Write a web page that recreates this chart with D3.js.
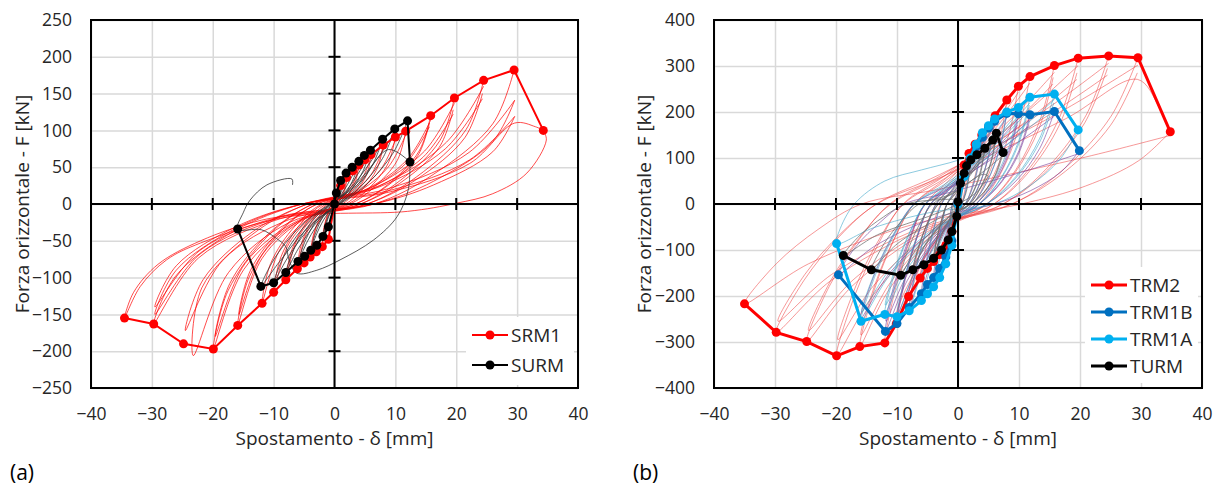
<!DOCTYPE html>
<html lang="it">
<head>
<meta charset="utf-8">
<script src="https://cdn.jsdelivr.net/npm/d3@7"></script>
<style>
body { margin: 0; background: #fff; }
svg { font-family: "Open Sans", sans-serif; }
</style>
</head>
<body>
<script>
// tick values
var xTicks = [-40, -30, -20, -10, 0, 10, 20, 30, 40];
var yTicksA = [-250, -200, -150, -100, -50, 0, 50, 100, 150, 200, 250];
var yTicksB = [-400, -300, -200, -100, 0, 100, 200, 300, 400];

// ---- (a) envelope curves ----
var srm1X = [-34.5, -29.7, -24.8, -19.9, -15.9, -11.9, -10, -8, -6.1, -5, -4, -3, -2, -1, 0, 1, 2, 3, 4, 5, 6, 8, 10, 11.7, 15.8, 19.7, 24.5, 29.5, 34.3];
var srm1F = [-155, -163, -190, -197, -165, -135, -120, -103, -88, -80, -72, -65, -58, -48, 0, 25, 36, 45, 53, 60, 67, 80, 91, 99, 120, 144, 168, 182, 100];
var surmX = [-15.9, -12.1, -10, -8, -6, -4.9, -3.9, -2.9, -1.9, -1, 0, 0.3, 1, 1.9, 2.9, 4, 4.9, 5.9, 7.9, 9.9, 12, 12.4];
var surmF = [-34, -112, -107, -93, -78, -71, -63, -56, -44, -31, 0, 15, 32, 42, 50, 58, 66, 73, 88, 102, 113, 57];

// ---- (a) raw cycles, x,F pairs ----
var srm1Loops = [
  [2,36, 1.8,22, 1.1,8, 0.4,0, -0.6,-7, -1.5,-26, -2,-58, -1.8,-35, -1.1,-13, -0.4,0, 0.6,5, 1.5,18, 2,34],
  [4,53, 3.5,32, 2.2,12, 0.9,0, -1.2,-9, -3,-32, -4,-72, -3.5,-43, -2.2,-16, -0.7,0, 1.2,8, 3,27, 4,50],
  [6,67, 5.3,40, 3.3,15, 1.3,0, -1.8,-11, -4.6,-40, -6.1,-88, -5.4,-53, -3.4,-19, -1.1,0, 1.8,10, 4.5,34, 6,64],
  [8,80, 7,48, 4.4,18, 1.8,0, -2.4,-12, -6,-46, -8,-103, -7,-62, -4.4,-23, -1.4,0, 2.4,12, 6,40, 8,76],
  [10,91, 8.8,55, 5.5,20, 2.2,0, -3,-14, -7.5,-54, -10,-120, -8.8,-72, -5.5,-26, -1.8,0, 3,14, 7.5,46, 10,87],
  [11.7,99, 10.3,59, 6.4,22, 2.6,0, -3.6,-16, -8.9,-61, -11.9,-135, -10.5,-81, -6.5,-30, -2.1,0, 3.5,15, 8.8,50, 11.7,94],
  [15.8,120, 13.9,72, 8.7,26, 3.5,0, -4.8,-20, -11.9,-74, -15.9,-165, -14,-99, -8.7,-36, -2.9,0, 4.7,18, 11.9,60, 15.8,114],
  [15.6,110, 13.7,66, 8.6,24, 3.4,0, -4.7,-18, -11.8,-68, -15.7,-150, -13.8,-90, -8.6,-33, -2.8,0, 4.7,17, 11.7,55, 15.6,105],
  [19.7,144, 17.3,86, 10.8,32, 4.3,0, -6,-24, -14.9,-89, -19.9,-197, -17.5,-118, -10.9,-43, -3.6,0, 5.9,22, 14.8,72, 19.7,137],
  [19.5,128, 17.2,77, 10.7,28, 4.3,0, -5.9,-22, -14.7,-81, -19.6,-180, -17.2,-108, -10.8,-40, -3.5,0, 5.9,19, 14.6,64, 19.5,122],
  [24.5,168, 21.6,101, 13.5,37, 5.4,0, -7.4,-25, -17.4,-93, -23.2,-206, -21.8,-114, -13.6,-42, -4.5,0, 7.4,25, 18.4,84, 24.5,160],
  [24.3,150, 21.4,90, 13.4,33, 5.3,0, -7.4,-21, -18.4,-77, -24.5,-172, -21.6,-103, -13.5,-38, -4.4,0, 7.3,23, 18.2,75, 24.3,143],
  [29.5,182, 26,109, 16.2,40, 6.5,0, -8.9,-20, -22.3,-73, -29.7,-163, -26.1,-98, -16.3,-36, -5.3,0, 8.9,21, 22.1,70, 29.6,141],
  [29.6,141, 26,85, 16.3,31, 6.5,0, -8.9,-18, -22.1,-68, -29.5,-150, -26,-90, -16.2,-33, -5.3,0, 8.9,18, 22.2,60, 29.6,119],
  [29.6,119, 26,71, 16.3,26, 6.5,0, -8.9,-17, -22.1,-63, -29.5,-140, -26,-84, -16.2,-31, -5.3,0, 8.9,16, 22.2,55, 29.6,110, 33,105, 34.3,100],
  [34.3,100, 34.8,87, 31.6,42, 26,14, 20,1, 12,-10, -8,-18, -22,-53, -27.6,-76, -31.9,-112, -34.5,-155, -33,-120, -29,-82, -22,-50, -12,-22, 0,-8]
];
var surmLoops = [
  [1.9,42, 1.5,25, 0.6,8, -0.6,-10, -1.4,-28, -1.9,-44, -1.5,-27, -0.6,-9, 0.6,10, 1.4,28, 1.9,40],
  [4,58, 3.2,36, 1.6,12, -1.2,-14, -2.9,-40, -3.9,-63, -3.1,-39, -1.6,-13, 1.2,14, 2.9,38, 4,56],
  [5.9,73, 4.7,45, 2.4,15, -1.8,-17, -4.4,-50, -5.9,-78, -4.7,-48, -2.4,-16, 1.8,17, 4.4,48, 5.9,70],
  [7.9,88, 6.3,54, 3.2,18, -2.4,-20, -5.9,-60, -8,-93, -6.4,-57, -3.2,-19, 2.4,20, 5.9,57, 7.9,85],
  [9.9,102, 7.9,62, 4,21, -3,-23, -7.4,-69, -10,-107, -8,-66, -4,-22, 3,23, 7.4,66, 9.9,98],
  [12,113, 9.6,69, 4.8,23, -3.6,-26, -8.9,-77, -12.1,-112, -9.7,-72, -4.8,-24, 3.6,25, 8.9,74, 12.4,57],
  [12.4,57, 12.1,19, 10.3,-17, 6.4,-49, 0.9,-76, -2.9,-90, -6.2,-94, -7.5,-75, -8,-58, -9.5,-47, -12,-35, -15.9,-34, -15,-12, -13.9,5, -11.1,26, -7,34, -6.9,26]
];

// ---- (b) envelope curves ----
var trm2X = [-35, -29.8, -24.8, -19.9, -16.1, -12, -10.1, -8.1, -6.2, -5, -4, -3, -2, -1, 0, 1, 1.8, 2.8, 3.9, 5, 6.1, 8, 9.9, 11.8, 15.8, 19.7, 24.7, 29.5, 34.8];
var trm2F = [-217, -279, -299, -330, -310, -302, -260, -201, -161, -140, -125, -110, -90, -60, 0, 85, 110, 130, 150, 168, 192, 226, 256, 277, 301, 317, 322, 318, 157];
var trm1bX = [-19.6, -11.9, -10, -8, -6, -5, -4, -3, -2, -1, 0, 1, 2, 3, 4, 5, 6, 8, 9.9, 11.8, 15.8, 19.9];
var trm1bF = [-154, -277, -260, -225, -195, -175, -160, -140, -115, -80, 0, 60, 95, 125, 145, 165, 180, 197, 196, 194, 201, 116];
var trm1aX = [-19.9, -15.9, -12, -10, -8, -6, -5, -4, -3, -2, -1, 0, 1, 2, 3, 4, 5, 6, 8, 9.9, 11.8, 15.8, 19.7];
var trm1aF = [-86, -255, -240, -245, -232, -210, -195, -180, -160, -130, -90, 0, 60, 100, 130, 155, 170, 185, 200, 210, 232, 239, 161];
var turmX = [-18.8, -14.2, -9.4, -7.4, -5.6, -4, -2.7, -1.6, -1, -0.2, 0, 0.4, 1, 1.4, 2.1, 3.1, 4.4, 5.7, 6.3, 7.4];
var turmF = [-112, -143, -155, -143, -132, -118, -100, -78, -60, -27, 5, 45, 67, 83, 96, 107, 121, 139, 154, 112];

// ---- (b) raw cycles ----
var trm2Loops = [
  [1.8,110, 1.5,66, 1.1,28, 0.5,0, -0.4,-18, -1.4,-54, -2,-90, -1.7,-54, -1.3,-23, -0.9,0, -0.2,22, 1.1,72, 1.8,105],
  [3.9,150, 3.3,90, 2.3,38, 1.2,0, -0.8,-25, -2.8,-75, -4,-125, -3.4,-75, -2.6,-31, -1.8,0, -0.4,30, 2.3,98, 3.9,143],
  [6.1,192, 5.2,115, 3.7,48, 1.8,0, -1.2,-32, -4.3,-97, -6.2,-161, -5.3,-97, -4,-40, -2.8,0, -0.6,38, 3.7,125, 6.1,182],
  [8,226, 6.8,136, 4.8,57, 2.4,0, -1.6,-40, -5.7,-121, -8.1,-201, -6.9,-121, -5.3,-50, -3.6,0, -0.8,45, 4.8,147, 8,215],
  [9.9,256, 8.4,154, 5.9,64, 3,0, -2,-52, -7.1,-156, -10.1,-260, -8.6,-156, -6.6,-65, -4.5,0, -1,51, 5.9,166, 9.9,243],
  [11.8,277, 10,166, 7.1,69, 3.5,0, -2.4,-60, -8.4,-181, -12,-302, -10.2,-181, -7.8,-76, -5.4,0, -1.2,55, 7.1,180, 11.8,263],
  [15.8,301, 13.4,181, 9.5,75, 4.7,0, -3.2,-62, -11.3,-186, -16.1,-310, -13.7,-186, -10.5,-78, -7.2,0, -1.6,60, 9.5,196, 15.8,286],
  [15.6,275, 13.3,165, 9.4,69, 4.7,0, -3.2,-57, -11.1,-171, -15.9,-285, -13.5,-171, -10.3,-71, -7.2,0, -1.6,55, 9.4,179, 15.6,261],
  [19.7,317, 16.7,190, 11.8,79, 5.9,0, -4,-66, -13.9,-198, -19.9,-330, -16.9,-198, -12.9,-83, -9,0, -2,63, 11.8,206, 19.7,301],
  [19.5,285, 16.6,171, 11.7,71, 5.9,0, -3.9,-59, -13.8,-177, -19.7,-295, -16.7,-177, -12.8,-74, -8.9,0, -2,57, 11.7,185, 19.5,271],
  [24.7,322, 21,193, 14.8,81, 7.4,0, -5,-60, -17.4,-179, -24.8,-299, -21.1,-179, -16.1,-75, -11.2,0, -2.5,64, 14.8,209, 24.7,306],
  [24.5,295, 20.8,177, 14.7,74, 7.4,0, -4.9,-55, -17.2,-165, -24.5,-275, -20.8,-165, -15.9,-69, -11,0, -2.5,59, 14.7,192, 24.5,280],
  [29.5,318, 25.1,191, 17.7,80, 8.9,0, -6,-56, -20.9,-167, -29.8,-279, -25.3,-167, -19.4,-70, -13.4,0, -3,64, 17.7,207, 29.5,302],
  [29.4,285, 25,171, 17.6,71, 8.8,0, -5.9,-51, -20.7,-153, -29.5,-255, -25.1,-153, -19.2,-64, -13.3,0, -3,57, 17.6,185, 29.4,271, 33,210, 34.8,157],
  [34.8,157, 29.6,94, 20.9,39, 10.4,0, -7,-43, -24.5,-130, -35,-217, -29.8,-130, -22.8,-54, -15.8,0, -3.5,31, 20.9,102, 34.8,149]
];
var trm1bLoops = [
  [2,95, 1.7,57, 1.2,24, 0.6,0, -0.4,-23, -1.4,-69, -2,-115, -1.7,-69, -1.3,-29, -0.9,0, -0.2,19, 1.2,62, 2,90],
  [4,145, 3.4,87, 2.4,36, 1.2,0, -0.8,-32, -2.8,-96, -4,-160, -3.4,-96, -2.6,-40, -1.8,0, -0.4,29, 2.4,94, 4,138],
  [6,180, 5.1,108, 3.6,45, 1.8,0, -1.2,-39, -4.2,-117, -6,-195, -5.1,-117, -3.9,-49, -2.7,0, -0.6,36, 3.6,117, 6,171],
  [8,197, 6.8,118, 4.8,49, 2.4,0, -1.6,-45, -5.6,-135, -8,-225, -6.8,-135, -5.2,-56, -3.6,0, -0.8,39, 4.8,128, 8,187],
  [9.9,196, 8.4,118, 5.9,49, 3,0, -2,-52, -7,-156, -10,-260, -8.5,-156, -6.5,-65, -4.5,0, -1,39, 5.9,127, 9.9,186],
  [9.8,180, 8.3,108, 5.9,45, 2.9,0, -2,-48, -6.9,-144, -9.9,-240, -8.4,-144, -6.4,-60, -4.5,0, -1,36, 5.9,117, 9.8,171],
  [11.8,194, 10,116, 7.1,49, 3.5,0, -2.4,-55, -8.3,-166, -11.9,-277, -10.1,-166, -7.7,-69, -5.4,0, -1.2,39, 7.1,126, 11.8,184],
  [11.7,180, 9.9,108, 7,45, 3.5,0, -2.4,-51, -8.3,-153, -11.8,-255, -10,-153, -7.7,-64, -5.3,0, -1.2,36, 7,117, 11.7,171],
  [15.8,201, 13.4,121, 9.5,50, 4.7,0, -3.2,-50, -11.2,-150, -16,-250, -13.6,-150, -10.4,-63, -7.2,0, -1.6,40, 9.5,131, 15.8,191],
  [19.9,116, 16.9,70, 11.9,29, 6,0, -3.9,-31, -13.7,-92, -19.6,-154, -16.7,-92, -12.7,-39, -8.8,0, -2,23, 11.9,75, 19.9,110]
];
var trm1aLoops = [
  [2,100, 1.7,60, 1.2,25, 0.6,0, -0.4,-26, -1.4,-78, -2,-130, -1.7,-78, -1.3,-33, -0.9,0, -0.2,20, 1.2,65, 2,95],
  [4,155, 3.4,93, 2.4,39, 1.2,0, -0.8,-36, -2.8,-108, -4,-180, -3.4,-108, -2.6,-45, -1.8,0, -0.4,31, 2.4,101, 4,147],
  [6,185, 5.1,111, 3.6,46, 1.8,0, -1.2,-42, -4.2,-126, -6,-210, -5.1,-126, -3.9,-53, -2.7,0, -0.6,37, 3.6,120, 6,176],
  [8,200, 6.8,120, 4.8,50, 2.4,0, -1.6,-46, -5.6,-139, -8,-232, -6.8,-139, -5.2,-58, -3.6,0, -0.8,40, 4.8,130, 8,190],
  [9.9,210, 8.4,126, 5.9,53, 3,0, -2,-49, -7,-147, -10,-245, -8.5,-147, -6.5,-61, -4.5,0, -1,42, 5.9,137, 9.9,200],
  [11.8,232, 10,139, 7.1,58, 3.5,0, -2.4,-48, -8.4,-143, -12,-238, -10.2,-143, -7.8,-60, -5.4,0, -1.2,46, 7.1,151, 11.8,220],
  [11.7,215, 9.9,129, 7,54, 3.5,0, -2.4,-44, -8.3,-132, -11.9,-220, -10.1,-132, -7.7,-55, -5.4,0, -1.2,43, 7,140, 11.7,204],
  [15.8,239, 13.4,143, 9.5,60, 4.7,0, -3.2,-51, -11.1,-153, -15.9,-255, -13.5,-153, -10.3,-64, -7.2,0, -1.6,48, 9.5,155, 15.8,227],
  [15.7,220, 13.3,132, 9.4,55, 4.7,0, -3.2,-47, -11.1,-141, -15.8,-235, -13.4,-141, -10.3,-59, -7.1,0, -1.6,44, 9.4,143, 15.7,209],
  [19.7,161, 16.7,97, 11.8,40, 5.9,0, -4,-17, -13.9,-52, -19.9,-86, -19.5,-60, -17,0, -12,50, -6,74, 0,95, 5,120]
];
var turmLoops = [
  [1,67, 0.85,40, 0.6,17, 0.3,0, -0.2,-12, -0.7,-36, -1,-60, -0.85,-36, -0.65,-15, -0.45,0, -0.1,13, 0.6,44, 1,64],
  [2.1,96, 1.8,58, 1.3,24, 0.6,0, -0.3,-16, -1.1,-47, -1.6,-78, -1.4,-47, -1,-20, -0.7,0, -0.2,19, 1.3,62, 2.1,91],
  [4.4,121, 3.7,73, 2.6,30, 1.3,0, -0.8,-24, -2.8,-71, -4,-118, -3.4,-71, -2.6,-30, -1.8,0, -0.4,24, 2.6,79, 4.4,115],
  [4.3,112, 3.7,67, 2.6,28, 1.3,0, -0.8,-22, -2.7,-66, -3.9,-110, -3.3,-66, -2.5,-28, -1.8,0, -0.4,22, 2.6,73, 4.3,106],
  [6.3,154, 5.4,92, 3.8,39, 1.9,0, -1.5,-29, -5.2,-86, -7.4,-143, -6.3,-86, -4.8,-36, -3.3,0, -0.7,31, 3.8,100, 6.3,146],
  [6.2,140, 5.3,84, 3.7,35, 1.9,0, -1.4,-27, -5,-80, -7.2,-133, -6.1,-80, -4.7,-33, -3.2,0, -0.7,28, 3.7,91, 6.2,133],
  [7.4,112, 6.3,67, 4.4,28, 2.2,0, -1.9,-31, -6.6,-93, -9.4,-155, -8,-93, -6.1,-39, -4.2,0, -0.9,22, 4.4,73, 7.4,106],
  [7,100, 6,60, 4.2,25, 2.1,0, -2.8,-29, -9.9,-86, -14.2,-143, -12.1,-86, -9.2,-36, -6.4,0, -1.4,20, 4.2,65, 5,60],
  [5,60, 3,25, 0,0, -3.8,-22, -13.2,-67, -18.8,-112, -16,-67, -12.2,-28, -8.5,0, -2,10, 0,10]
];

var svg = d3.select("body").append("svg")
    .attr("width", 1213)
    .attr("height", 490);

// turn flat x,F list into points
function pairs(flat) {
  var out = [];
  for (var i = 0; i < flat.length; i += 2) out.push([flat[i], flat[i + 1]]);
  return out;
}
function zip(xs, fs) {
  return xs.map(function(v, i) { return [v, fs[i]]; });
}

function drawPanel(p) {
  var g = svg.append("g");
  var x = d3.scaleLinear().domain([-40, 40]).range([p.left, p.right]);
  var y = d3.scaleLinear().domain([p.yTicks[0], p.yTicks[p.yTicks.length - 1]]).range([p.bottom, p.top]);
  var w = p.right - p.left, h = p.bottom - p.top;

  g.append("clipPath").attr("id", "clip" + p.id)
    .append("rect").attr("x", p.left).attr("y", p.top).attr("width", w).attr("height", h);

  // grid
  g.append("g")
    .attr("transform", "translate(0," + p.bottom + ")")
    .call(d3.axisBottom(x).tickValues(xTicks).tickSize(-h).tickFormat(""))
    .call(function(s) { s.select(".domain").remove(); s.selectAll("line").attr("stroke", "#d9d9d9").attr("stroke-width", 1.5); });
  g.append("g")
    .attr("transform", "translate(" + p.left + ",0)")
    .call(d3.axisLeft(y).tickValues(p.yTicks).tickSize(-w).tickFormat(""))
    .call(function(s) { s.select(".domain").remove(); s.selectAll("line").attr("stroke", "#d9d9d9").attr("stroke-width", 1.5); });

  // tick labels
  g.append("g")
    .attr("transform", "translate(0," + (p.bottom + 14) + ")")
    .call(d3.axisBottom(x).tickValues(xTicks).tickSize(0).tickPadding(6))
    .call(function(s) { s.select(".domain").remove(); s.selectAll("text").attr("font-size", 17.5).attr("fill", "#262626").attr("font-family", "Open Sans, sans-serif"); });
  g.append("g")
    .attr("transform", "translate(" + (p.left - 13) + ",0)")
    .call(d3.axisLeft(y).tickValues(p.yTicks).tickSize(0).tickPadding(6))
    .call(function(s) { s.select(".domain").remove(); s.selectAll("text").attr("font-size", 17.5).attr("fill", "#262626").attr("font-family", "Open Sans, sans-serif"); });

  // raw cycles
  var smooth = d3.line()
    .x(function(d) { return x(d[0]); })
    .y(function(d) { return y(d[1]); })
    .curve(d3.curveCatmullRom.alpha(0.5));
  var raw = g.append("g").attr("clip-path", "url(#clip" + p.id + ")");
  p.raw.forEach(function(r) {
    raw.selectAll(null).data(r.loops).enter().append("path")
      .attr("d", function(d) { return smooth(pairs(d)); })
      .attr("fill", "none")
      .attr("stroke", r.color)
      .attr("stroke-opacity", r.opacity)
      .attr("stroke-width", 1);
  });

  // zero axes with crossing ticks
  g.append("line").attr("x1", p.left).attr("x2", p.right).attr("y1", y(0)).attr("y2", y(0))
    .attr("stroke", "#000").attr("stroke-width", 2);
  g.append("line").attr("x1", x(0)).attr("x2", x(0)).attr("y1", p.top).attr("y2", p.bottom)
    .attr("stroke", "#000").attr("stroke-width", 2);
  g.selectAll(null).data(xTicks.slice(1, -1)).enter().append("line")
    .attr("x1", function(d) { return x(d); }).attr("x2", function(d) { return x(d); })
    .attr("y1", y(0) - 6).attr("y2", y(0) + 6)
    .attr("stroke", "#000").attr("stroke-width", 2);
  g.selectAll(null).data(p.yTicks.slice(1, -1)).enter().append("line")
    .attr("x1", x(0) - 6).attr("x2", x(0) + 6)
    .attr("y1", function(d) { return y(d); }).attr("y2", function(d) { return y(d); })
    .attr("stroke", "#000").attr("stroke-width", 2);

  // envelopes with markers
  var straight = d3.line()
    .x(function(d) { return x(d[0]); })
    .y(function(d) { return y(d[1]); });
  p.env.forEach(function(e) {
    var pts = zip(e.x, e.f);
    g.append("path").attr("d", straight(pts))
      .attr("fill", "none").attr("stroke", e.color).attr("stroke-width", p.lw);
    g.selectAll(null).data(pts).enter().append("circle")
      .attr("cx", function(d) { return x(d[0]); })
      .attr("cy", function(d) { return y(d[1]); })
      .attr("r", p.r)
      .attr("fill", e.color);
  });

  // frame
  g.append("rect").attr("x", p.left).attr("y", p.top).attr("width", w).attr("height", h)
    .attr("fill", "none").attr("stroke", "#000").attr("stroke-width", 2);

  // legend
  var lg = g.append("g");
  lg.append("rect").attr("x", p.legX - 6).attr("y", p.legY - 18)
    .attr("width", p.right - p.legX + 2).attr("height", p.env.length * p.legStep + 8)
    .attr("fill", "#fff");
  p.env.forEach(function(e, i) {
    var ly = p.legY + i * p.legStep;
    lg.append("line").attr("x1", p.legX).attr("x2", p.legX + 36).attr("y1", ly).attr("y2", ly)
      .attr("stroke", e.color).attr("stroke-width", p.lw);
    lg.append("circle").attr("cx", p.legX + 18).attr("cy", ly).attr("r", p.r).attr("fill", e.color);
    lg.append("text").attr("x", p.legX + 39).attr("y", ly).attr("dy", "0.36em")
      .attr("font-size", 19).attr("fill", "#262626").text(e.name);
  });

  // axis titles
  g.append("text").attr("x", (p.left + p.right) / 2).attr("y", 438).attr("dy", "0.36em")
    .attr("text-anchor", "middle").attr("font-size", 19).attr("fill", "#262626")
    .text("Spostamento - δ [mm]");
  g.append("text")
    .attr("transform", "translate(" + p.titleX + "," + (p.top + p.bottom) / 2 + ") rotate(-90)")
    .attr("dy", "0.36em").attr("text-anchor", "middle").attr("font-size", 19).attr("fill", "#262626")
    .text("Forza orizzontale - F [kN]");
  g.append("text").attr("x", p.tagX).attr("y", 480)
    .attr("font-size", 21).attr("fill", "#000").text(p.tag);
}

drawPanel({
  id: "a", left: 91, right: 578, top: 20, bottom: 388, yTicks: yTicksA,
  lw: 2, r: 4.5, legX: 472, legY: 335, legStep: 30, titleX: 22, tagX: 10, tag: "(a)",
  raw: [
    { loops: srm1Loops, color: "#ff0000", opacity: 0.7 },
    { loops: surmLoops, color: "#333333", opacity: 0.8 }
  ],
  env: [
    { name: "SRM1", x: srm1X, f: srm1F, color: "#ff0000" },
    { name: "SURM", x: surmX, f: surmF, color: "#000000" }
  ]
});

drawPanel({
  id: "b", left: 714, right: 1202, top: 20, bottom: 388, yTicks: yTicksB,
  lw: 3, r: 4.5, legX: 1091, legY: 285, legStep: 27, titleX: 644, tagX: 633, tag: "(b)",
  raw: [
    { loops: trm2Loops, color: "#ee4444", opacity: 0.55 },
    { loops: trm1bLoops, color: "#7a3a9a", opacity: 0.6 },
    { loops: trm1aLoops, color: "#3fa7c9", opacity: 0.6 },
    { loops: turmLoops, color: "#6e6e6e", opacity: 0.75 }
  ],
  env: [
    { name: "TRM2", x: trm2X, f: trm2F, color: "#ff0000" },
    { name: "TRM1B", x: trm1bX, f: trm1bF, color: "#0070c0" },
    { name: "TRM1A", x: trm1aX, f: trm1aF, color: "#00b0f0" },
    { name: "TURM", x: turmX, f: turmF, color: "#000000" }
  ]
});
</script>
</body>
</html>
